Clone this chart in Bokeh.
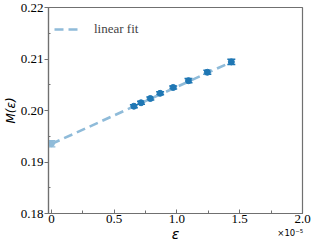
from bokeh.plotting import figure
from bokeh.models import (ColumnDataSource, Whisker, TeeHead, Range1d,
                          FixedTicker, PrintfTickFormatter, LinearAxis)
from bokeh.embed import file_html
from bokeh.resources import INLINE

# data (epsilon in units of 1e-5)
eps = [0.657, 0.714, 0.788, 0.866, 0.970, 1.092, 1.242, 1.433]
M = [0.20083, 0.20150, 0.20233, 0.20334, 0.20447, 0.20579, 0.20742, 0.20944]
M_err = [0.0003, 0.0003, 0.0003, 0.0003, 0.0003, 0.0004, 0.0004, 0.0005]

extrap_eps = [0.0]
extrap_M = [0.19355]
extrap_err = [0.0006]

fit_eps = [0.0, 1.45]
fit_M = [0.1935, 0.2096]

x_ticks = [0, 0.5, 1.0, 1.5, 2.0]
x_minor = [0.25, 0.75, 1.25, 1.75]
x_labels = ["0", "0.5", "1.0", "1.5", "2.0"]
y_ticks = [0.18, 0.19, 0.20, 0.21, 0.22]
y_minor = [0.185, 0.195, 0.205, 0.215]

DARK = "#1f77b4"
LIGHT = "#8fbbd9"
AX = "#707070"
SERIF = "Liberation Serif"
SANS = "DejaVu Sans"

p = figure(width=314, height=246, output_backend="svg", toolbar_location=None,
           x_range=Range1d(-0.023, 2.0), y_range=Range1d(0.18, 0.22),
           min_border_left=43, min_border_right=12, min_border_top=7,
           min_border_bottom=33)
p.grid.visible = False
p.outline_line_color = AX
p.outline_line_width = 1.2
p.background_fill_color = "white"
p.border_fill_color = "white"

src = ColumnDataSource(dict(x=eps, y=M,
                            lo=[m - e for m, e in zip(M, M_err)],
                            hi=[m + e for m, e in zip(M, M_err)]))
src0 = ColumnDataSource(dict(x=extrap_eps, y=extrap_M,
                             lo=[m - e for m, e in zip(extrap_M, extrap_err)],
                             hi=[m + e for m, e in zip(extrap_M, extrap_err)]))

fit = p.line(fit_eps, fit_M, line_color=LIGHT, line_width=2.6,
             line_dash="9 5", legend_label="linear fit")

w0 = Whisker(source=src0, base="x", lower="lo", upper="hi", line_color=LIGHT,
             line_width=1.3,
             lower_head=TeeHead(size=8, line_color=LIGHT, line_width=1.3),
             upper_head=TeeHead(size=8, line_color=LIGHT, line_width=1.3))
p.add_layout(w0)
p.scatter("x", "y", source=src0, size=6, fill_color=LIGHT, line_color=LIGHT)

w = Whisker(source=src, base="x", lower="lo", upper="hi", line_color=DARK,
            line_width=1.3,
            lower_head=TeeHead(size=8, line_color=DARK, line_width=1.5),
            upper_head=TeeHead(size=8, line_color=DARK, line_width=1.5))
p.add_layout(w)
p.scatter("x", "y", source=src, size=6, fill_color=DARK, line_color=DARK)

# axes
xa = p.xaxis[0]
xa.ticker = FixedTicker(ticks=x_ticks, minor_ticks=x_minor)
xa.major_label_overrides = {float(t): l for t, l in zip(x_ticks, x_labels)}
xa.major_tick_in = 4
xa.major_tick_out = 0
xa.minor_tick_in = 3
xa.minor_tick_out = 0
xa.major_label_standoff = 1
xa.axis_label = "ε"
xa.axis_label_standoff = 0
xa.axis_label_text_font_size = "14px"
ya = p.yaxis[0]
ya.ticker = FixedTicker(ticks=y_ticks, minor_ticks=y_minor)
ya.formatter = PrintfTickFormatter(format="%.2f")
ya.major_tick_in = 0
ya.major_tick_out = 4
ya.minor_tick_in = 2
ya.minor_tick_out = 0
ya.major_label_standoff = 1
ya.axis_label = "M(ε)"
ya.axis_label_standoff = 0
ya.axis_label_text_font_size = "12px"
for a in (xa, ya):
    a.axis_line_color = AX
    a.axis_line_width = 1.2
    a.major_tick_line_color = AX
    a.minor_tick_line_color = AX
    a.major_label_text_font = SERIF
    a.major_label_text_font_size = "13px"
    a.major_label_text_color = "black"
    a.axis_label_text_font = SANS
    a.axis_label_text_font_style = "italic"
    a.axis_label_text_color = "black"

# multiplier as label of a second, bare bottom axis pulled up beside "ε";
# leading em spaces push the centred text to the frame's right edge
xm = LinearAxis(ticker=FixedTicker(ticks=[]), axis_line_color=None,
                major_tick_line_color=None, minor_tick_line_color=None,
                major_label_text_font_size="0px", major_tick_in=0,
                major_tick_out=0, major_label_standoff=0,
                axis_label="\u2003" * 27 + "×10⁻⁵", axis_label_text_font=SANS,
                axis_label_text_font_size="8.5px",
                axis_label_text_font_style="normal",
                axis_label_text_color="black",
                axis_label_standoff=-17)
p.add_layout(xm, "below")

lg = p.legend[0]
lg.location = "top_left"
lg.border_line_color = None
lg.background_fill_alpha = 0
lg.label_text_font = SERIF
lg.label_text_font_size = "13px"
lg.glyph_width = 26
lg.glyph_height = 32
lg.label_height = 32
lg.margin = 6
lg.padding = 6
lg.label_standoff = 14

open("out.html", "w").write(file_html(p, INLINE))
